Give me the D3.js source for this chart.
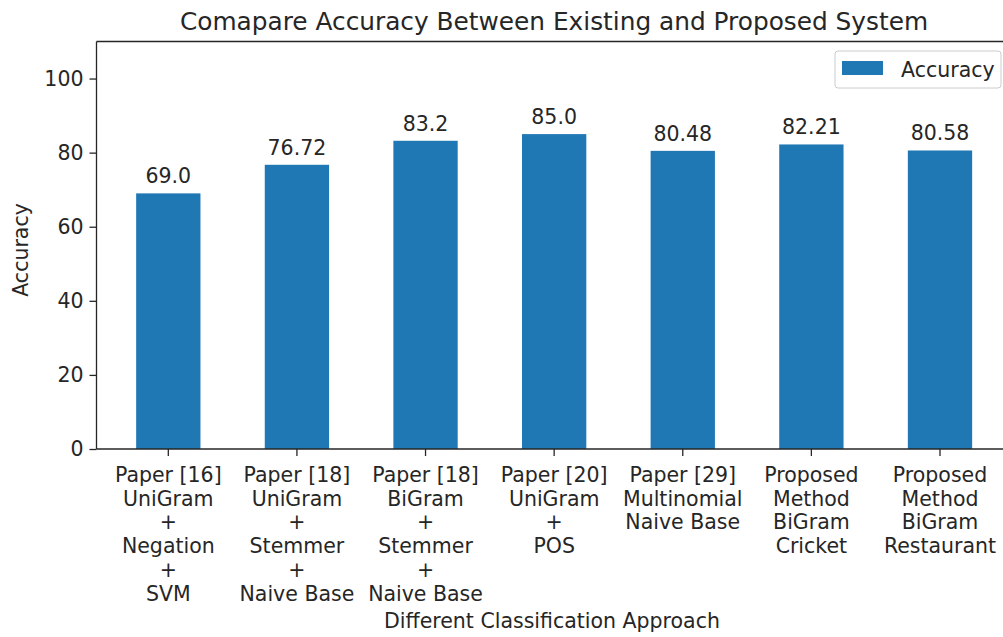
<!DOCTYPE html>
<html>
<head>
<meta charset="utf-8">
<script src="https://cdn.jsdelivr.net/npm/d3@7"></script>
<style>
  html, body { margin: 0; padding: 0; background: #fff; }
  svg { display: block; font-family: "DejaVu Sans", sans-serif; }
</style>
</head>
<body>
<svg id="chart" width="1003" height="637"></svg>
<script>
const categories = [
  "Paper [16]\nUniGram\n+\nNegation\n+\nSVM",
  "Paper [18]\nUniGram\n+\nStemmer\n+\nNaive Base",
  "Paper [18]\nBiGram\n+\nStemmer\n+\nNaive Base",
  "Paper [20]\nUniGram\n+\nPOS",
  "Paper [29]\nMultinomial\nNaive Base",
  "Proposed\nMethod\nBiGram\nCricket",
  "Proposed\nMethod\nBiGram\nRestaurant"
];
const accuracy = [69.0, 76.72, 83.2, 85.0, 80.48, 82.21, 80.58];
const valueLabels = ["69.0", "76.72", "83.2", "85.0", "80.48", "82.21", "80.58"];
const yTicks = [0, 20, 40, 60, 80, 100];
const seriesName = "Accuracy";
const titleText = "Comapare Accuracy Between Existing and Proposed System";
const xLabelText = "Different Classification Approach";
const yLabelText = "Accuracy";

const svg = d3.select("#chart");
const textColor = "#262626";
const barColor = "#1f77b4";

const plot = { left: 96.5, top: 41.5, bottom: 449, right: 1012 };

const x = d3.scaleBand()
  .domain(categories)
  .range([104, 1004.3])
  .paddingInner(0.5)
  .paddingOuter(0.25);

const y = d3.scaleLinear().domain([0, 110]).range([plot.bottom, plot.top]);

// bars
svg.append("g").selectAll("rect")
  .data(accuracy)
  .join("rect")
  .attr("x", (d, i) => x(categories[i]))
  .attr("width", x.bandwidth())
  .attr("y", d => y(d))
  .attr("height", d => y(0) - y(d))
  .attr("fill", barColor);

// value labels
svg.append("g").selectAll("text")
  .data(accuracy)
  .join("text")
  .attr("x", (d, i) => x(categories[i]) + x.bandwidth() / 2)
  .attr("y", d => y(d) - 10)
  .attr("text-anchor", "middle")
  .attr("font-size", 20.5)
  .attr("fill", textColor)
  .text((d, i) => valueLabels[i]);

// y axis
const yAxis = svg.append("g")
  .attr("transform", `translate(${plot.left},0)`)
  .call(d3.axisLeft(y).tickValues(yTicks).tickSize(7).tickPadding(6).tickFormat(d3.format("d")));
yAxis.select(".domain").remove();
yAxis.selectAll(".tick line").attr("stroke", textColor).attr("stroke-width", 1.3);
yAxis.selectAll(".tick text").attr("font-size", 20.5).attr("fill", textColor)
  .attr("font-family", "DejaVu Sans");

// x axis
const xAxis = svg.append("g")
  .attr("transform", `translate(0,${plot.bottom})`)
  .call(d3.axisBottom(x).tickSize(7).tickPadding(0));
xAxis.select(".domain").remove();
xAxis.selectAll(".tick line").attr("stroke", textColor).attr("stroke-width", 1.3);
xAxis.selectAll(".tick text").each(function(d) {
  const t = d3.select(this);
  t.text(null).attr("y", 0).attr("dy", null)
    .attr("font-size", 20.5).attr("fill", textColor).attr("font-family", "DejaVu Sans");
  d.split("\n").forEach((line, k) => {
    t.append("tspan").attr("x", 0).attr("y", 33 + k * 23.7).text(line);
  });
});

// spines
const spines = svg.append("g").attr("stroke", textColor).attr("stroke-width", 1.3).attr("fill", "none");
spines.append("line").attr("x1", plot.left).attr("x2", plot.left).attr("y1", plot.top).attr("y2", plot.bottom);
spines.append("line").attr("x1", plot.left).attr("x2", plot.right).attr("y1", plot.top).attr("y2", plot.top);
spines.append("line").attr("x1", plot.left).attr("x2", plot.right).attr("y1", plot.bottom).attr("y2", plot.bottom);

// title
svg.append("text")
  .attr("x", 554).attr("y", 30)
  .attr("text-anchor", "middle")
  .attr("font-size", 24.8)
  .attr("fill", textColor)
  .text(titleText);

// x label
svg.append("text")
  .attr("x", 552).attr("y", 628)
  .attr("text-anchor", "middle")
  .attr("font-size", 20.5)
  .attr("fill", textColor)
  .text(xLabelText);

// y label
svg.append("text")
  .attr("transform", "translate(28,250) rotate(-90)")
  .attr("text-anchor", "middle")
  .attr("font-size", 20.5)
  .attr("fill", textColor)
  .text(yLabelText);

// legend
const lg = svg.append("g");
lg.append("rect").attr("x", 835).attr("y", 51).attr("width", 166).attr("height", 37)
  .attr("rx", 3).attr("fill", "#fff").attr("fill-opacity", 0.8)
  .attr("stroke", "#cccccc").attr("stroke-width", 1);
lg.append("rect").attr("x", 842).attr("y", 61).attr("width", 41).attr("height", 14).attr("fill", barColor);
lg.append("text").attr("x", 901).attr("y", 77).attr("font-size", 20.5).attr("fill", textColor).text(seriesName);
</script>
</body>
</html>
